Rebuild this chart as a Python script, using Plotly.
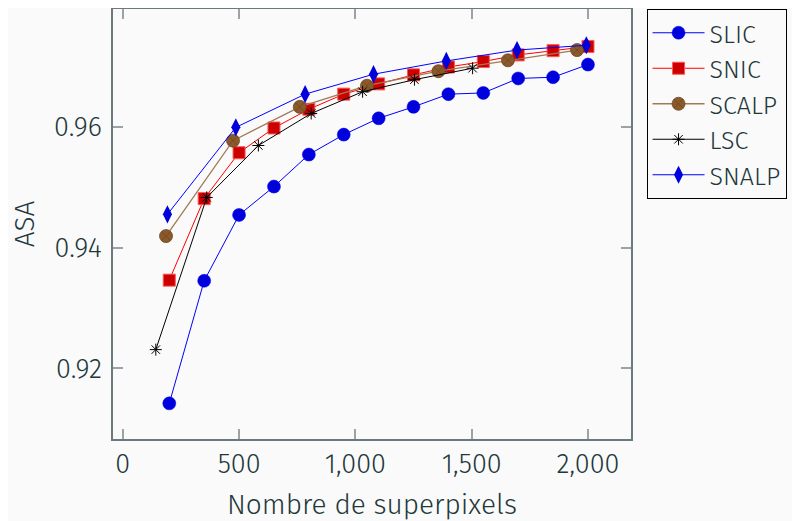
import plotly.graph_objects as go

slic_x = [200, 350, 500, 650, 800, 950, 1100, 1250, 1400, 1550, 1700, 1850, 2000]
slic_y = [0.9142, 0.9345, 0.9454, 0.9501, 0.9554, 0.9587, 0.9614, 0.9633, 0.9654, 0.9656, 0.9680, 0.9682, 0.9703]

snic_x = [200, 350, 500, 650, 800, 950, 1100, 1250, 1400, 1550, 1700, 1850, 2000]
snic_y = [0.9346, 0.9481, 0.9557, 0.9598, 0.9629, 0.9654, 0.9671, 0.9686, 0.9699, 0.9708, 0.9719, 0.9726, 0.9733]

scalp_x = [186, 474, 761, 1050, 1357, 1656, 1953]
scalp_y = [0.9419, 0.9577, 0.9633, 0.9668, 0.9692, 0.9710, 0.9727]

lsc_x = [142, 361, 583, 810, 1031, 1254, 1504]
lsc_y = [0.9231, 0.9483, 0.9569, 0.9622, 0.9658, 0.9678, 0.9697]

snalp_x = [192, 486, 784, 1078, 1391, 1695, 1993]
snalp_y = [0.9455, 0.9599, 0.9654, 0.9687, 0.9709, 0.9727, 0.9735]

x_ticks = [0, 500, 1000, 1500, 2000]
x_tick_labels = ["0", "500", "1,000", "1,500", "2,000"]
y_ticks = [0.92, 0.94, 0.96]
y_tick_labels = ["0.92", "0.94", "0.96"]

TEXT = "#23373b"
BG = "#fafafa"
FONT = "Fira Sans Light, Fira Sans, Open Sans, sans-serif"

fig = go.Figure()
fig.add_trace(go.Scatter(x=slic_x, y=slic_y, name="SLIC", mode="lines+markers",
                         line=dict(color="#0000ff", width=1),
                         marker=dict(symbol="circle", size=13, color="#0000dd",
                                     line=dict(color="#0000ee", width=0.5))))
fig.add_trace(go.Scatter(x=snic_x, y=snic_y, name="SNIC", mode="lines+markers",
                         line=dict(color="#ff0000", width=1),
                         marker=dict(symbol="square", size=12, color="#cc0000",
                                     line=dict(color="#ff5555", width=1))))
fig.add_trace(go.Scatter(x=scalp_x, y=scalp_y, name="SCALP", mode="lines+markers",
                         line=dict(color="#a07a55", width=1.3),
                         marker=dict(symbol="circle-x", size=13, color="#8b5a2b",
                                     line=dict(color="#6e4520", width=0.8))))
fig.add_trace(go.Scatter(x=lsc_x, y=lsc_y, name="LSC", mode="lines+markers",
                         line=dict(color="#000000", width=1),
                         marker=dict(symbol="asterisk-open", size=10, color="#000000",
                                     line=dict(color="#000000", width=1))))
fig.add_trace(go.Scatter(x=snalp_x, y=snalp_y, name="SNALP", mode="lines+markers",
                         line=dict(color="#0000ff", width=1),
                         marker=dict(symbol="diamond-tall", size=13, color="#0000dd",
                                     line=dict(color="#0000dd", width=0))))

axis_common = dict(showgrid=False, zeroline=False, showline=True, mirror="ticks",
                   linecolor="#6b7a7d", linewidth=1.5, ticks="inside", ticklen=10,
                   tickcolor="#9aa3a5", tickwidth=1.5, automargin=False,
                   tickfont=dict(size=27, color=TEXT, family=FONT, weight=300))

fig.update_xaxes(range=[-42, 2185], tickvals=x_ticks, ticktext=x_tick_labels,
                 title=dict(text="Nombre de superpixels",
                            font=dict(size=28, color=TEXT, family=FONT, weight=300),
                            standoff=15),
                 **axis_common)
fig.update_yaxes(range=[0.9083, 0.9795], tickvals=y_ticks, ticktext=y_tick_labels,
                 ticklabelstandoff=4,
                 title=dict(text="ASA", font=dict(size=28, color=TEXT, family=FONT, weight=300),
                            standoff=24),
                 **axis_common)

fig.update_layout(
    width=800, height=521,
    paper_bgcolor=BG, plot_bgcolor=BG,
    margin=dict(l=105, r=177, t=1, b=90),
    font=dict(family=FONT, color=TEXT),
    legend=dict(x=1.03, y=1.0, xanchor="left", yanchor="top",
                bgcolor=BG, bordercolor="#000000", borderwidth=1,
                font=dict(size=25, color=TEXT, family=FONT, weight=300),
                itemwidth=52, tracegroupgap=0),
    showlegend=True,
)

fig.write_html("out.html")
